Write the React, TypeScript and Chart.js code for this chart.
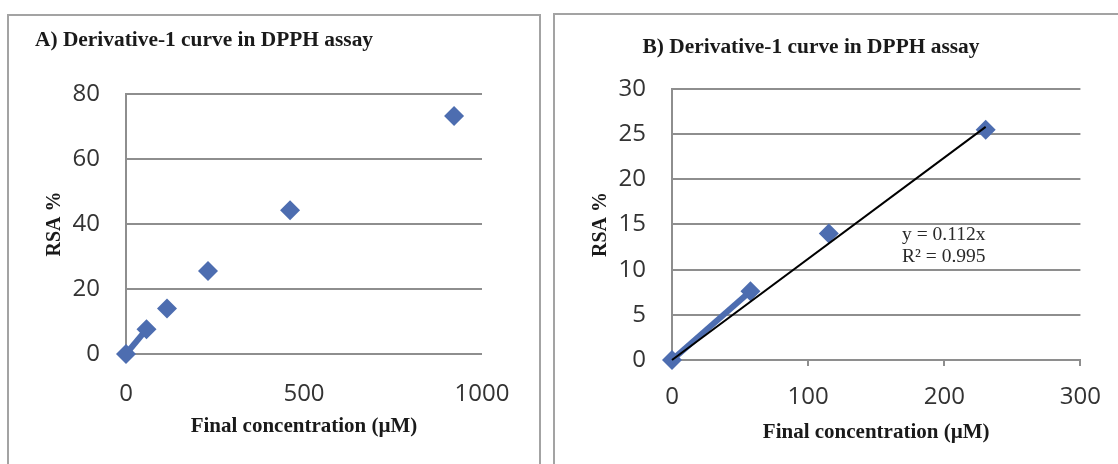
import React, { useEffect, useRef } from "react";
import { Chart, registerables } from "chart.js";

Chart.register(...registerables);

// ---------- data ----------
const concA = [0, 57.6, 115.2, 230.4, 460.8, 921.6];
const rsaA = [0, 7.6, 14.0, 25.5, 44.2, 73.2];
const concB = [0, 57.6, 115.2, 230.4];
const rsaB = [0, 7.6, 14.0, 25.5];
const trendSlopeB = 0.112;
const trendR2B = 0.995;
const eqLines = ["y = 0.112x", "R² = 0.995"];
const eqAnchorX = 169; // data units
const eqAnchorY = 13.9; // data units

const titleA = "A) Derivative-1 curve in DPPH assay";
const titleB = "B) Derivative-1 curve in DPPH assay";
const xTitle = "Final concentration (µM)";
const yTitle = "RSA %";

const xRangeA = [0, 1000];
const xStepA = 500;
const yRangeA = [0, 80];
const yStepA = 20;
const xRangeB = [0, 300];
const xStepB = 100;
const yRangeB = [0, 30];
const yStepB = 5;

// ---------- styles ----------
const BLUE = "#4d6db0";
const GRID = "#8e8e8e";
const TICK_COLOR = "#333333";
const TEXT_COLOR = "#1a1a1a";
const TICK_FONT = { family: '"Open Sans", sans-serif', size: 24 };
const SERIF_BOLD = (size: number) => ({
  family: '"Liberation Serif", "Times New Roman", serif',
  size,
  weight: "bold" as const,
});

const pts = (xs: number[], ys: number[]) => xs.map((x, i) => ({ x, y: ys[i] }));
const plainTick = (v: any) => String(v);

const eqPlugin = {
  id: "eqLabel",
  afterDatasetsDraw(chart: any) {
    if (!chart.options.plugins.eqLabel?.show) return;
    const { ctx, scales } = chart;
    const px = scales.x.getPixelForValue(eqAnchorX);
    const py = scales.y.getPixelForValue(eqAnchorY);
    ctx.save();
    ctx.font = '19.5px "Liberation Serif", "Times New Roman", serif';
    ctx.fillStyle = "#2a2a2a";
    ctx.textAlign = "left";
    ctx.textBaseline = "middle";
    ctx.fillText(eqLines[0], px, py);
    ctx.fillText(eqLines[1], px, py + 22);
    ctx.restore();
  },
};

function buildConfig(opts: {
  xs: number[];
  ys: number[];
  title: string;
  titleAlign: "start" | "center";
  titlePad: { top: number; bottom: number };
  layoutPad: { left: number; right: number; top: number; bottom: number };
  xRange: number[];
  xStep: number;
  yRange: number[];
  yStep: number;
  yAxisWidth: number;
  yTitlePadTop: number;
  xAxisHeight: number;
  xTickPad: number;
  xTitlePadBottom: number;
  xTickMarks: boolean;
  trend: boolean;
}) {
  const datasets: any[] = [
    {
      data: pts(opts.xs, opts.ys),
      showLine: false,
      pointStyle: "rectRot",
      pointRadius: 10,
      pointHoverRadius: 10,
      backgroundColor: BLUE,
      borderColor: BLUE,
      pointBorderWidth: 0,
      clip: false,
      order: 1,
    },
    {
      data: pts(opts.xs.slice(0, 2), opts.ys.slice(0, 2)),
      showLine: true,
      borderColor: BLUE,
      backgroundColor: BLUE,
      borderWidth: 6,
      pointRadius: 0,
      clip: false,
      order: 2,
    },
  ];
  if (opts.trend) {
    const xEnd = opts.xs[opts.xs.length - 1];
    datasets.push({
      data: [
        { x: 0, y: 0 },
        { x: xEnd, y: trendSlopeB * xEnd },
      ],
      showLine: true,
      borderColor: "#000000",
      borderWidth: 2,
      pointRadius: 0,
      clip: false,
      order: 0,
    });
  }
  return {
    type: "scatter",
    data: { datasets },
    plugins: [eqPlugin],
    options: {
      responsive: false,
      animation: false,
      events: [],
      layout: { padding: opts.layoutPad },
      plugins: {
        legend: { display: false },
        tooltip: { enabled: false },
        eqLabel: { show: opts.trend },
        title: {
          display: true,
          text: opts.title,
          align: opts.titleAlign,
          color: TEXT_COLOR,
          font: SERIF_BOLD(21.4),
          padding: opts.titlePad,
        },
      },
      scales: {
        x: {
          type: "linear",
          min: opts.xRange[0],
          max: opts.xRange[1],
          ticks: {
            stepSize: opts.xStep,
            padding: opts.xTickPad,
            color: TICK_COLOR,
            font: TICK_FONT,
            maxRotation: 0,
            callback: plainTick,
          },
          grid: opts.xTickMarks
            ? {
                display: true,
                drawOnChartArea: false,
                drawTicks: true,
                tickLength: 6,
                color: GRID,
                lineWidth: 2,
              }
            : { display: false },
          border: opts.xTickMarks
            ? { display: true, color: GRID, width: 2 }
            : { display: false },
          title: {
            display: true,
            text: xTitle,
            color: TEXT_COLOR,
            font: SERIF_BOLD(21),
            padding: { top: 0, bottom: opts.xTitlePadBottom },
          },
          afterFit: (s: any) => {
            s.height = opts.xAxisHeight;
          },
        },
        y: {
          type: "linear",
          min: opts.yRange[0],
          max: opts.yRange[1],
          ticks: {
            stepSize: opts.yStep,
            padding: 26,
            color: TICK_COLOR,
            font: TICK_FONT,
            callback: plainTick,
          },
          grid: { color: GRID, lineWidth: 2, drawTicks: false },
          border: { display: true, color: GRID, width: 2 },
          title: {
            display: true,
            text: yTitle,
            color: TEXT_COLOR,
            font: SERIF_BOLD(20),
            padding: { top: opts.yTitlePadTop, bottom: 0 },
          },
          afterFit: (s: any) => {
            s.width = opts.yAxisWidth;
          },
        },
      },
    },
  };
}

export default function App() {
  const refA = useRef<HTMLCanvasElement | null>(null);
  const refB = useRef<HTMLCanvasElement | null>(null);

  useEffect(() => {
    const a = new Chart(
      refA.current as HTMLCanvasElement,
      buildConfig({
        xs: concA,
        ys: rsaA,
        title: titleA,
        titleAlign: "start",
        titlePad: { top: 27.2, bottom: 41.1 },
        layoutPad: { left: 35, right: 58, top: 0, bottom: 0 },
        xRange: xRangeA,
        xStep: xStepA,
        yRange: yRangeA,
        yStep: yStepA,
        yAxisWidth: 91,
        yTitlePadTop: 8,
        xAxisHeight: 110,
        xTickPad: 18,
        xTitlePadBottom: 24.5,
        xTickMarks: false,
        trend: false,
      }) as any
    );
    const b = new Chart(
      refB.current as HTMLCanvasElement,
      buildConfig({
        xs: concB,
        ys: rsaB,
        title: titleB,
        titleAlign: "center",
        titlePad: { top: 34.2, bottom: 29.1 },
        layoutPad: { left: 0, right: 37, top: 0, bottom: 0 },
        xRange: xRangeB,
        xStep: xStepB,
        yRange: yRangeB,
        yStep: yStepB,
        yAxisWidth: 131,
        yTitlePadTop: 48,
        xAxisHeight: 104,
        xTickPad: 17,
        xTitlePadBottom: 18.5,
        xTickMarks: true,
        trend: true,
      }) as any
    );
    return () => {
      a.destroy();
      b.destroy();
    };
  }, []);

  return (
    <div
      style={{
        position: "fixed",
        left: 0,
        top: 0,
        width: 1118,
        height: 464,
        overflow: "hidden",
        background: "#ffffff",
      }}
    >
      <div
        style={{
          position: "absolute",
          left: 7,
          top: 14,
          width: 530,
          height: 500,
          border: "2px solid #a3a3a3",
        }}
      />
      <div
        style={{
          position: "absolute",
          left: 553,
          top: 13,
          width: 600,
          height: 500,
          border: "2px solid #a3a3a3",
        }}
      />
      <canvas
        ref={refA}
        width={540}
        height={464}
        style={{ position: "absolute", left: 0, top: 0, width: 540, height: 464 }}
      />
      <canvas
        ref={refB}
        width={577}
        height={464}
        style={{ position: "absolute", left: 541, top: 0, width: 577, height: 464 }}
      />
    </div>
  );
}
